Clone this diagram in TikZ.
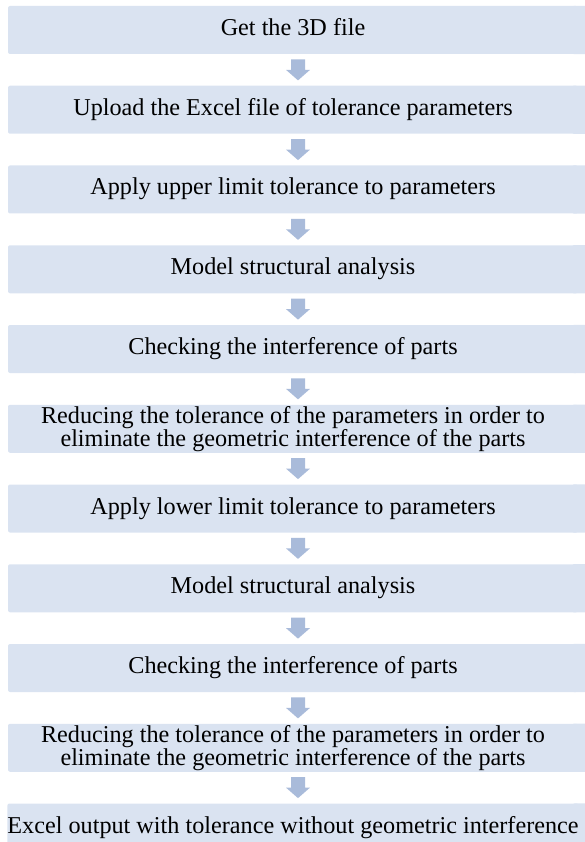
\documentclass[tikz,border=0pt]{standalone}
\usepackage{fontspec}
\setmainfont{Liberation Serif}
\usetikzlibrary{calc,backgrounds}
\definecolor{boxc}{HTML}{DAE3F1}
\definecolor{arrc}{HTML}{A9BBDA}
\begin{document}
\begin{tikzpicture}[x=1pt,y=1pt,
  stepbox/.style={fill=boxc, rounded corners=2pt, minimum width=570pt, minimum height=48pt,
    inner sep=0pt, align=center, text height=17pt, text depth=6pt,
    font=\fontsize{24.2}{23}\selectfont},
  stepboxtwo/.style={stepbox, text height=, text depth=},
  boxext/.style={fill=boxc, rounded corners=2pt},
  flowarrow/.style={fill=arrc}
]
\useasboundingbox (0,0) rectangle (584,-842);
\node[stepbox] (b1)  at (293,-30)     {Get the 3D file};
\node[stepbox] (b2)  at (293,-109.75) {Upload the Excel file of tolerance parameters};
\node[stepbox] (b3)  at (293,-189.5)  {Apply upper limit tolerance to parameters};
\node[stepbox] (b4)  at (293,-269.25) {Model structural analysis};
\node[stepbox] (b5)  at (293,-349)    {Checking the interference of parts};
\node[stepboxtwo] (b6)  at (293,-428.75) {Reducing the tolerance of the parameters in order to\\eliminate the geometric interference of the parts};
\node[stepbox] (b7)  at (293,-508.5)  {Apply lower limit tolerance to parameters};
\node[stepbox] (b8)  at (293,-588.25) {Model structural analysis};
\node[stepbox] (b9)  at (293,-668)    {Checking the interference of parts};
\node[stepboxtwo] (b10) at (293,-747.75) {Reducing the tolerance of the parameters in order to\\eliminate the geometric interference of the parts};
\node[stepbox] (b11) at (293,-827.5)  {Excel output with tolerance without geometric interference};
\begin{scope}[on background layer]
\foreach \i in {1,...,11} {
  \fill[boxext] ($(b\i.south east)+(-6,0)$) rectangle ($(b\i.north east)+(20,0)$);
}
\end{scope}
\foreach \i [evaluate=\i as \j using int(\i+1)] in {1,...,10} {
  \fill[flowarrow] ($(b\i.south)!0.5!(b\j.north)+(5,0)$) ++(-7,10.5) -- ++(14,0) -- ++(0,-10.5)
    -- ++(5,0) -- ++(-12,-10.5) -- ++(-12,10.5) -- ++(5,0) -- cycle;
}
\end{tikzpicture}
\end{document}
